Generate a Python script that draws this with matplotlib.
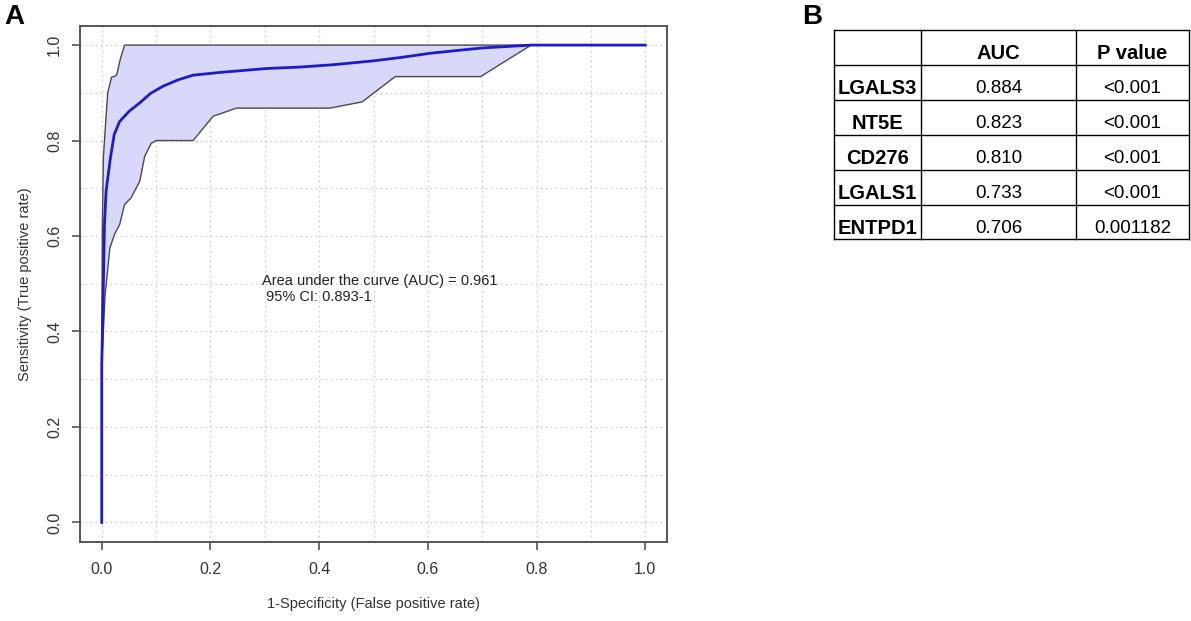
import numpy as np
import matplotlib
matplotlib.use("Agg")
import matplotlib.pyplot as plt

plt.rcParams['font.family'] = ['Liberation Sans', 'DejaVu Sans']

# ROC curve (mean) and 95% CI band
mean_fpr = [0.0, 0.0, 0.003, 0.005, 0.008, 0.012, 0.016, 0.023, 0.033, 0.051, 0.070,
            0.090, 0.113, 0.140, 0.168, 0.220, 0.304, 0.365, 0.427, 0.500, 0.550,
            0.605, 0.700, 0.790, 1.0]
mean_tpr = [0.0, 0.33, 0.50, 0.624, 0.694, 0.729, 0.764, 0.813, 0.840, 0.862, 0.879,
            0.899, 0.914, 0.927, 0.937, 0.943, 0.951, 0.954, 0.959, 0.967, 0.974,
            0.983, 0.994, 1.0, 1.0]

upper_fpr = [0.0, 0.0, 0.001, 0.003, 0.007, 0.011, 0.018, 0.025, 0.028, 0.034, 0.042, 1.0]
upper_tpr = [0.0, 0.30, 0.607, 0.764, 0.834, 0.90, 0.933, 0.935, 0.94, 0.97, 1.0, 1.0]

lower_fpr = [0.0, 0.0, 0.006, 0.015, 0.024, 0.033, 0.042, 0.054, 0.070, 0.079, 0.091,
             0.100, 0.168, 0.205, 0.248, 0.420, 0.479, 0.540, 0.697, 0.790, 1.0]
lower_tpr = [0.0, 0.327, 0.474, 0.575, 0.605, 0.624, 0.666, 0.680, 0.715, 0.767, 0.794,
             0.800, 0.800, 0.851, 0.868, 0.868, 0.881, 0.934, 0.934, 1.0, 1.0]

auc_text = "Area under the curve (AUC) = 0.961\n 95% CI: 0.893-1"

# table of markers
genes = ["LGALS3", "NT5E", "CD276", "LGALS1", "ENTPD1"]
auc_values = ["0.884", "0.823", "0.810", "0.733", "0.706"]
p_values = ["<0.001", "<0.001", "<0.001", "<0.001", "0.001182"]
col_labels = ["", "AUC", "P value"]

fig = plt.figure(figsize=(11.91, 6.21), dpi=100)

# ---- panel A: ROC ----
ax = fig.add_axes([80/1191, 1 - 541.5/621, 587/1191, 515.5/621])

ax.fill(upper_fpr + lower_fpr[::-1], upper_tpr + lower_tpr[::-1],
        color='#d8d8fa', lw=0, zorder=1)
ax.plot(upper_fpr, upper_tpr, color='#4a4a4a', lw=1.0, zorder=2)
ax.plot(lower_fpr, lower_tpr, color='#4a4a4a', lw=1.0, zorder=2)
ax.plot(mean_fpr, mean_tpr, color='#1c1cc8', lw=2.0, zorder=3)

# multi-line text: baseline alignment refers to the last line
ax.text(0.294, 0.463, auc_text, fontsize=10.5, color='#222222',
        ha='left', va='baseline', linespacing=1.2)

ax.set_xlim(-0.04, 1.04)
ax.set_ylim(-0.04, 1.04)
ax.set_xticks(np.arange(0, 1.01, 0.2))
ax.set_yticks(np.arange(0, 1.01, 0.2))
ax.set_xticks(np.arange(0.1, 1.0, 0.2), minor=True)
ax.set_yticks(np.arange(0.1, 1.0, 0.2), minor=True)
ax.set_xticklabels([f"{v:.1f}" for v in np.arange(0, 1.01, 0.2)])
ax.set_yticklabels([f"{v:.1f}" for v in np.arange(0, 1.01, 0.2)],
                   rotation=90, va='center')
ax.grid(True, which='both', color='#cfcfcf', linestyle=(0, (1.5, 2.5)), lw=0.9, zorder=0)
ax.set_axisbelow(True)
ax.tick_params(which='major', length=6, width=1.2, color='#555555',
               labelsize=11.5, labelcolor='#333333')
ax.tick_params(axis='x', which='major', pad=9)
ax.tick_params(axis='y', which='major', pad=7)
ax.tick_params(which='minor', length=0)
for s in ax.spines.values():
    s.set_color('#555555')
    s.set_linewidth(1.4)

ax.set_xlabel("1-Specificity (False positive rate)", fontsize=10.5, color='#333333', labelpad=14)
ax.set_ylabel("Sensitivity (True positive rate)", fontsize=10.5, color='#333333', labelpad=11)

# ---- panel B: table (drawn by hand so text sits a little low in each cell) ----
col_w = [87, 155, 113]
row_h = 209.5 / (len(genes) + 1)
tw = sum(col_w)
th = row_h * (len(genes) + 1)
tax = fig.add_axes([834/1191, 1 - 239.5/621, tw/1191, th/621])
tax.set_xlim(0, tw)
tax.set_ylim(th, 0)
tax.axis('off')

col_edges = np.concatenate([[0], np.cumsum(col_w)])
for x in col_edges:
    tax.plot([x, x], [0, th], color='black', lw=1.0, clip_on=False)
for i in range(len(genes) + 2):
    tax.plot([0, tw], [i * row_h, i * row_h], color='black', lw=1.0, clip_on=False)

rows = [col_labels] + [[g, a, p] for g, a, p in zip(genes, auc_values, p_values)]
for r, row in enumerate(rows):
    yc = (r + 0.5) * row_h + 6
    for c, val in enumerate(row):
        xc = (col_edges[c] + col_edges[c + 1]) / 2
        bold = (r == 0 or c == 0)
        tax.text(xc, yc, val, ha='center', va='center',
                 fontsize=14.5 if bold else 13.5,
                 fontweight='bold' if bold else 'normal', color='black')

fig.text(0.004, 0.994, "A", fontsize=20, fontweight='bold', va='top', ha='left')
fig.text(802/1191, 0.994, "B", fontsize=20, fontweight='bold', va='top', ha='left')

fig.savefig("out.png", dpi=100)
